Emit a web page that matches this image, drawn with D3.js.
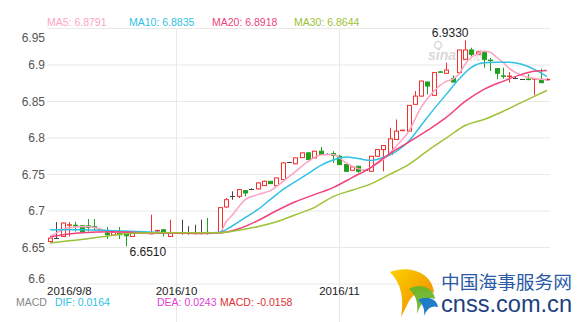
<!DOCTYPE html>
<html>
<head>
<meta charset="utf-8">
<script src="https://cdn.jsdelivr.net/npm/d3@7"></script>
<style>
  body { margin: 0; background: #fff; }
  svg { display: block; font-family: "Liberation Sans", Arial, sans-serif; }
</style>
</head>
<body>
<svg id="chart" width="584" height="322"></svg>
<script>
// Trading calendar (Mon–Sat) for USD/CNY, 2016-09-08 .. 2016-12-09
const dates = d3.timeDay.range(new Date(2016, 8, 8), new Date(2016, 11, 10))
  .filter(d => d.getDay() !== 0)
  .map(d3.timeFormat("%Y-%m-%d"));

const opens = [
  6.6576, 6.6630, 6.6644, 6.6800, 6.6798, 6.6791, 6.6790, 6.6780, 6.6740, 6.6692,
  6.6663, 6.6699, 6.6713, 6.6644, 6.6685, 6.6685, 6.6680, 6.6720, 6.6736, 6.6644,
  6.6690, 6.6695, 6.6695, 6.6695, 6.6695, 6.6700, 6.6690, 6.6695, 6.7048, 6.7194,
  6.7194, 6.7272, 6.7300, 6.7296, 6.7341, 6.7400, 6.7341, 6.7423, 6.7663, 6.7640,
  6.7725, 6.7790, 6.7721, 6.7812, 6.7780, 6.7780, 6.7743, 6.7629, 6.7551, 6.7606,
  6.7551, 6.7537, 6.7743, 6.7835, 6.7767, 6.7973, 6.8095, 6.8087, 6.8454, 6.8567,
  6.8760, 6.8577, 6.8900, 6.8879, 6.8806, 6.8889, 6.9071, 6.9199, 6.9140, 6.9167,
  6.9060, 6.8944, 6.8845, 6.8835, 6.8820, 6.8797, 6.8800, 6.8800, 6.8797, 6.8790
];
const highs = [
  6.6625, 6.6842, 6.6835, 6.6842, 6.6845, 6.6795, 6.6883, 6.6883, 6.6750, 6.6773,
  6.6705, 6.6773, 6.6720, 6.6695, 6.6690, 6.6690, 6.6942, 6.6735, 6.6740, 6.6874,
  6.6690, 6.6874, 6.6785, 6.6805, 6.6874, 6.6897, 6.6690, 6.7045, 6.7171, 6.7262,
  6.7290, 6.7280, 6.7305, 6.7385, 6.7410, 6.7405, 6.7450, 6.7660, 6.7668, 6.7725,
  6.7795, 6.7795, 6.7818, 6.7872, 6.7785, 6.7812, 6.7760, 6.7635, 6.7600, 6.7610,
  6.7555, 6.7748, 6.7840, 6.7895, 6.8133, 6.8247, 6.8105, 6.8445, 6.8636, 6.8780,
  6.8765, 6.8895, 6.8905, 6.9026, 6.8850, 6.9205, 6.9330, 6.9230, 6.9180, 6.9190,
  6.9090, 6.8950, 6.8957, 6.8897, 6.8835, 6.8800, 6.8865, 6.8810, 6.8944, 6.8810
];
const lows = [
  6.6554, 6.6622, 6.6640, 6.6644, 6.6713, 6.6695, 6.6713, 6.6720, 6.6720, 6.6609,
  6.6660, 6.6609, 6.6510, 6.6640, 6.6680, 6.6680, 6.6675, 6.6710, 6.6644, 6.6640,
  6.6690, 6.6668, 6.6668, 6.6668, 6.6668, 6.6668, 6.6690, 6.6690, 6.7034, 6.7148,
  6.7171, 6.7194, 6.7295, 6.7290, 6.7335, 6.7365, 6.7335, 6.7420, 6.7658, 6.7635,
  6.7720, 6.7690, 6.7715, 6.7760, 6.7775, 6.7652, 6.7625, 6.7530, 6.7545, 6.7515,
  6.7547, 6.7535, 6.7740, 6.7537, 6.7760, 6.7968, 6.8090, 6.8080, 6.8450, 6.8560,
  6.8591, 6.8570, 6.8890, 6.8875, 6.8755, 6.8885, 6.9065, 6.9110, 6.9135, 6.8957,
  6.8911, 6.8797, 6.8806, 6.8751, 6.8800, 6.8795, 6.8785, 6.8577, 6.8745, 6.8780
];
const closes = [
  6.6622, 6.6630, 6.6828, 6.6805, 6.6792, 6.6713, 6.6770, 6.6770, 6.6730, 6.6668,
  6.6699, 6.6668, 6.6654, 6.6690, 6.6685, 6.6685, 6.6690, 6.6727, 6.6690, 6.6690,
  6.6690, 6.6695, 6.6695, 6.6695, 6.6695, 6.6690, 6.6690, 6.7039, 6.7148, 6.7194,
  6.7286, 6.7240, 6.7300, 6.7378, 6.7400, 6.7368, 6.7446, 6.7652, 6.7663, 6.7721,
  6.7790, 6.7698, 6.7812, 6.7767, 6.7780, 6.7755, 6.7629, 6.7537, 6.7597, 6.7537,
  6.7551, 6.7743, 6.7835, 6.7890, 6.7982, 6.8087, 6.8100, 6.8440, 6.8567, 6.8773,
  6.8705, 6.8889, 6.8893, 6.8924, 6.8760, 6.9199, 6.9199, 6.9140, 6.9172, 6.9071,
  6.9055, 6.8879, 6.8838, 6.8842, 6.8820, 6.8797, 6.8795, 6.8806, 6.8751, 6.8797
];

// Moving averages, sampled per session (null = not sampled)
const ma5 = [
  6.6640, null, null, 6.6765, null, null, 6.6780, null, null, 6.6722,
  null, null, 6.6695, null, null, 6.6688, null, null, 6.6695, null,
  null, 6.6688, null, null, 6.6680, null, null, 6.6699, 6.6846, 6.6942,
  6.7052, 6.7148, null, 6.7217, null, 6.7272, null, 6.7396, null, 6.7533,
  null, 6.7670, null, 6.7760, null, 6.7767, null, 6.7657, null, 6.7574,
  6.7554, 6.7588, null, 6.7698, null, 6.7877, null, 6.8080, null, 6.8412,
  null, 6.8632, null, 6.8769, 6.8797, 6.8865, 6.9003, 6.9099, 6.9140, 6.9181,
  6.9168, 6.9099, 6.9030, 6.8948, 6.8893, 6.8852, 6.8824, 6.8810, 6.8797, 6.8791
];
const ma10 = [
  6.6736, null, null, null, null, 6.6736, null, null, null, null,
  6.6722, null, null, null, null, 6.6709, null, null, null, null,
  6.6695, null, null, null, null, 6.6695, null, 6.6702, null, 6.6791,
  null, 6.6901, null, 6.7011, null, 6.7148, null, 6.7286, null, 6.7396,
  null, 6.7505, null, 6.7615, null, 6.7691, null, 6.7732, null, 6.7711,
  null, 6.7684, null, 6.7725, null, 6.7808, null, 6.7945, null, 6.8165,
  null, 6.8385, null, 6.8591, null, 6.8797, null, 6.8962, null, 6.9023,
  null, 6.9030, null, 6.9030, null, 6.9003, null, 6.8934, null, 6.8835
];
const ma20 = [
  6.6640, null, null, null, null, 6.6695, null, null, null, null,
  6.6709, null, null, null, null, 6.6695, null, null, null, null,
  6.6688, null, null, null, null, null, null, 6.6695, null, null,
  6.6750, null, null, 6.6860, null, null, 6.6997, null, null, 6.7120,
  null, null, 6.7217, null, null, 6.7313, null, null, 6.7450, null,
  null, 6.7588, null, null, 6.7780, null, null, 6.7934, null, null,
  6.8096, null, null, 6.8275, null, null, 6.8495, null, null, 6.8660,
  null, null, 6.8769, null, null, 6.8865, null, 6.8907, null, 6.8918
];
const ma30 = [
  6.6554, null, null, 6.6585, null, null, 6.6613, null, null, 6.6647,
  null, null, 6.6681, null, null, null, 6.6695, null, null, null,
  6.6695, null, null, null, null, null, null, 6.6695, null, null,
  6.6730, null, null, 6.6778, null, null, 6.6846, null, null, 6.6942,
  null, null, 6.7040, null, null, 6.7190, null, null, 6.7278, null,
  null, 6.7365, null, null, 6.7495, null, null, 6.7629, null, null,
  6.7816, null, null, 6.7992, null, null, 6.8165, null, null, 6.8247,
  null, null, 6.8357, null, null, 6.8481, null, 6.8563, null, 6.8644
];

const yTicks = [6.6, 6.65, 6.7, 6.75, 6.8, 6.85, 6.9, 6.95];
const xTickDates = ["2016-09-08", "2016-10-01", "2016-11-01"];
const xTickLabels = ["2016/9/8", "2016/10", "2016/11"];

const maNames = ["MA5", "MA10", "MA20", "MA30"];
const maSeries = [ma5, ma10, ma20, ma30];
const maColors = ["#ffa3c2", "#2fc1e4", "#f0427c", "#9cc236"];

const macdNames = ["DIF", "DEA", "MACD"];
const macdValues = [0.0164, 0.0243, -0.0158];
const macdColors = ["#2fc1e4", "#e040d4", "#e03030"];

const UP = "#f43030", DOWN = "#1fa11f", FLAT = "#444";

// ---------------------------------------------------------------
const svg = d3.select("#chart");
const L = 47, R = 550, T = 28, B = 283.5;

const x = d3.scaleBand().domain(dates).range([L, R]);
const y = d3.scaleLinear().domain([6.6, 6.95]).range([B, T]);
const cx = i => Math.round(x(dates[i]) + x.bandwidth() / 2) + 0.5;
const f4 = v => v.toFixed(4);

// horizontal grid + y labels
const yAxis = svg.append("g")
  .attr("transform", `translate(${L},0)`)
  .call(d3.axisLeft(y).tickValues(yTicks).tickSize(-(R - L)).tickPadding(2)
    .tickFormat(d3.format("")));
yAxis.select(".domain").remove();
yAxis.selectAll(".tick line").attr("stroke", "#e9e9e9");
yAxis.selectAll(".tick text")
  .attr("fill", "#555").attr("font-size", 12)
  .attr("font-family", "Liberation Sans, Arial, sans-serif")
  .attr("dy", d => {
    const p = y(d);
    const shifted = Math.max(37, Math.min(278, p));
    return (shifted - p + 4.2) + "px";
  });

// vertical grid on month starts + x labels
const xg = svg.append("g");
xTickDates.forEach((d, k) => {
  const px = Math.round(x(d) + x.bandwidth() / 2) + 0.5;
  if (k > 0) {
    xg.append("line").attr("x1", px).attr("x2", px).attr("y1", T).attr("y2", 322)
      .attr("stroke", "#e9e9e9");
  }
  xg.append("text")
    .attr("x", k === 0 ? L : px)
    .attr("y", 294.5)
    .attr("text-anchor", k === 0 ? "start" : "middle")
    .attr("font-size", 11.5).attr("fill", "#222")
    .text(xTickLabels[k]);
});

// sina watermark
const wm = svg.append("g").attr("opacity", 0.55);
wm.append("text").attr("x", 428).attr("y", 60).attr("font-size", 14)
  .attr("font-style", "italic").attr("font-weight", "bold").attr("fill", "#bbb").text("sina");
wm.append("text").attr("x", 461).attr("y", 60).attr("font-size", 12)
  .attr("font-family", "Noto Sans CJK SC").attr("fill", "#bbb").text("新浪");
wm.append("circle").attr("cx", 438).attr("cy", 45).attr("r", 3.5)
  .attr("fill", "none").attr("stroke", "#bbb").attr("stroke-width", 1.5);

// candlesticks
const cg = svg.append("g");
dates.forEach((d, i) => {
  const o = opens[i], h = highs[i], l = lows[i], c = closes[i];
  const px = cx(i);
  const col = c > o ? UP : (c < o ? DOWN : FLAT);
  if (h > l) {
    cg.append("line").attr("x1", px).attr("x2", px)
      .attr("y1", y(h)).attr("y2", y(l)).attr("stroke", col);
  }
  if (c === o) {
    cg.append("line").attr("x1", px - 2.5).attr("x2", px + 2.5)
      .attr("y1", Math.round(y(c)) + 0.5).attr("y2", Math.round(y(c)) + 0.5)
      .attr("stroke", col);
  } else {
    const top = y(Math.max(o, c)), bot = y(Math.min(o, c));
    cg.append("rect")
      .attr("x", px - 2).attr("width", 4)
      .attr("y", top).attr("height", Math.max(0.5, bot - top))
      .attr("fill", c > o ? "#fff" : col).attr("stroke", col);
  }
});

// moving averages
const line = d3.line().x(p => x(dates[p[0]]) + x.bandwidth() / 2).y(p => y(p[1]))
  .curve(d3.curveMonotoneX);
maSeries.forEach((s, k) => {
  const pts = s.map((v, i) => [i, v]).filter(p => p[1] !== null);
  svg.append("path").attr("d", line(pts)).attr("fill", "none")
    .attr("stroke", maColors[k]).attr("stroke-width", 1.5);
});

// extreme labels
const iMax = d3.maxIndex(highs), iMin = d3.minIndex(lows);
svg.append("text").attr("x", cx(iMax) + 3).attr("y", y(highs[iMax]) - 3)
  .attr("text-anchor", "end").attr("font-size", 12).attr("fill", "#222")
  .text(f4(highs[iMax]));
svg.append("text").attr("x", cx(iMin) + 3).attr("y", y(lows[iMin]) + 10)
  .attr("text-anchor", "start").attr("font-size", 12).attr("fill", "#222")
  .text(f4(lows[iMin]));

// MA legend
const legX = [47, 129, 212, 294];
maNames.forEach((n, k) => {
  const last = maSeries[k][maSeries[k].length - 1];
  svg.append("text").attr("x", legX[k]).attr("y", 26)
    .attr("font-size", 10.5).attr("fill", maColors[k])
    .text(`${n}: ${f4(last)}`);
});

// MACD legend
svg.append("text").attr("x", 16).attr("y", 306).attr("font-size", 10.5)
  .attr("fill", "#888").text("MACD");
const macdX = [55, 157, 220];
macdNames.forEach((n, k) => {
  svg.append("text").attr("x", macdX[k]).attr("y", 306).attr("font-size", 10.5)
    .attr("fill", macdColors[k]).text(`${n}: ${f4(macdValues[k])}`);
});

// cnss logo
const defs = svg.append("defs");
const gr = defs.append("linearGradient").attr("id", "sunGrad")
  .attr("x1", "0").attr("y1", "0").attr("x2", "1").attr("y2", "1");
gr.append("stop").attr("offset", "0%").attr("stop-color", "#fbd200");
gr.append("stop").attr("offset", "100%").attr("stop-color", "#f08200");
const logo = svg.append("g");
logo.append("path")
  .attr("d", "M390,272 C412,264 433,275 434,293 C424,287 413,293 408,303 C405,309 403,313 401,317 C404,300 402,284 390,272 Z")
  .attr("fill", "url(#sunGrad)");
logo.append("path")
  .attr("d", "M409,289 C420,282 434,288 435,299 C427,296 421,302 417,314 C418,304 417,296 409,289 Z")
  .attr("fill", "#6cb52a").attr("opacity", 0.95);
logo.append("path")
  .attr("d", "M418,300 C427,295 437,299 438,307 C431,305 427,309 424,316 C425,310 423,304 418,300 Z")
  .attr("fill", "#1f7cc9");
logo.append("text").attr("x", 441).attr("y", 288.5).attr("font-size", 18)
  .attr("font-family", "Noto Sans CJK SC").attr("fill", "#2a5aa8")
  .attr("textLength", 131).attr("lengthAdjust", "spacingAndGlyphs")
  .text("中国海事服务网");
logo.append("text").attr("x", 441).attr("y", 312).attr("font-size", 24)
  .attr("fill", "#1d3f80")
  .attr("textLength", 131).attr("lengthAdjust", "spacingAndGlyphs")
  .text("cnss.com.cn");
</script>
</body>
</html>
